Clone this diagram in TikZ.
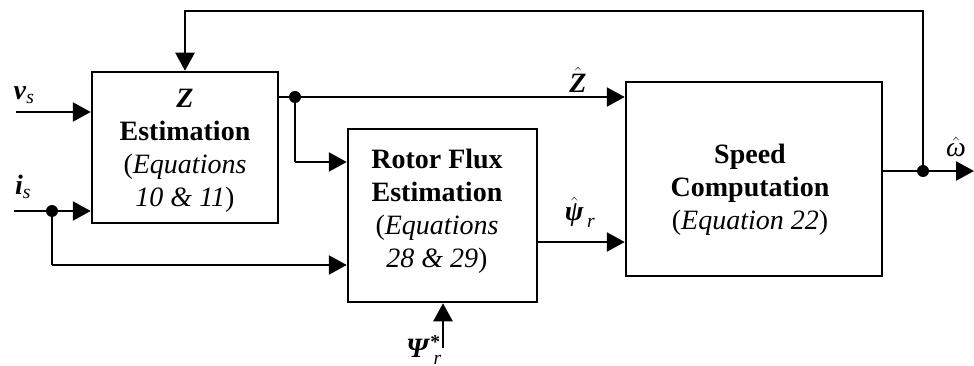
\documentclass[tikz,border=0pt]{standalone}
\usepackage{amsmath}
\usepackage{fontspec}
\setmainfont{Liberation Serif}
\usetikzlibrary{arrows.meta}
\begin{document}
\begin{tikzpicture}[x=1pt,y=-1pt,
  blk/.style={draw,line width=2.5pt,inner sep=0pt},
  wire/.style={line width=2.5pt},
  arr/.style={wire,-{Triangle[length=18pt,width=19pt]}},
  txt/.style={align=center,font=\fontsize{28}{33}\selectfont,inner sep=0pt},
  lbl/.style={font=\fontsize{28}{30}\selectfont,inner sep=0pt},
  dot/.style={circle,fill,inner sep=0pt,minimum size=12pt}]
\useasboundingbox (0,0) rectangle (974,366);
\clip (0,0) rectangle (974,366);
% blocks
\node[blk,minimum width=186pt,minimum height=151pt] (zb) at (185,147.5) {};
\node[blk,minimum width=189pt,minimum height=173pt] (rf) at (442.5,215.5) {};
\node[blk,minimum width=256pt,minimum height=194pt] (sp) at (754,179) {};
% block texts
\node[txt] (zt) at (185,151) {\textbf{\textit{Z}}\\\textbf{Estimation}\\(\textit{Equations}\\\textit{10 \& 11})};
\node[txt] (rt) at (437,211) {\textbf{Rotor Flux}\\\textbf{Estimation}\\(\textit{Equations}\\\textit{28 \& 29})};
\node[txt] (st) at (750,190) {\textbf{Speed}\\\textbf{Computation}\\(\textit{Equation 22})};
% junctions and endpoints
\node[dot] (d1) at (295,97) {};
\node[dot] (d2) at (52,211) {};
\node[dot] (d3) at (923,171) {};
\coordinate (vin) at (16,112);
\coordinate (iin) at (14,211);
\coordinate (psin) at (443,348);
\coordinate (wout) at (974,171);
\coordinate (fbtop) at (923,11);
% connectors
\draw[arr] (vin) -- (vin -| zb.west);
\draw[arr] (iin) -- (iin -| zb.west);
\draw[wire] (d2.center) |- (52,265) coordinate (c1);
\draw[arr] (c1) -- (c1 -| rf.west);
\draw[wire] (d1.center -| zb.east) -- (d1.center);
\draw[arr] (d1.center) -- (d1.center -| sp.west);
\draw[wire] (d1.center) -- (295,162) coordinate (c2);
\draw[arr] (c2) -- (c2 -| rf.west);
\draw[arr] (rf.east |- 0,242) -- (sp.west |- 0,242);
\draw[arr] (psin) -- (psin |- rf.south);
\draw[wire] (sp.east |- d3.center) -- (d3.center);
\draw[arr] (d3.center) -- (wout);
\draw[wire,line cap=rect] (d3.center) -- (fbtop) -- (fbtop -| zb.north);
\draw[arr] (fbtop -| zb.north) -- (zb.north);
% labels
\node[lbl] (lv) at (24,95) {\textbf{\textit{v}}$_{\text{\itshape s}}$};
\node[lbl] (li) at (23,187) {\textbf{\textit{i}}$_{\text{\itshape s}}$};
\node[lbl] (lz) at (578,80) {$\hat{\mbox{\textbf{\textit{Z}}}}$};
\node[lbl] (lpsi) at (580,212) {$\hat{\mbox{\textbf{\textit{ψ}}}}_{\,\text{\itshape r}}$};
\node[lbl] (lps) at (424,350) {\textbf{\textit{Ψ}}$^{\text{\bfseries *}}_{\,\text{\itshape r}}$};
\node[lbl] (lw) at (956,147) {$\hat{\mbox{\textit{ω}}}$};
\end{tikzpicture}
\end{document}
